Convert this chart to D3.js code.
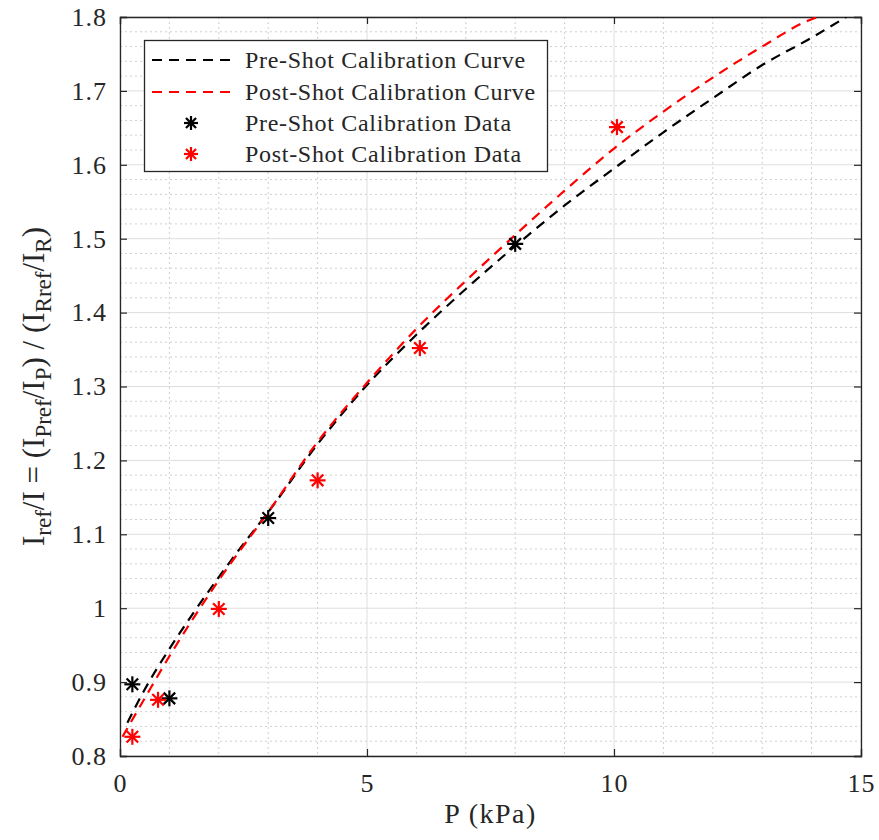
<!DOCTYPE html>
<html lang="en">
<head>
<meta charset="UTF-8">
<title>Calibration</title>
<style>
  body { margin: 0; background: #fff; }
  text { font-family: "Liberation Serif", "Times New Roman", serif; fill: #262626; }
</style>
</head>
<body>
<div id="chart"></div>
<script src="https://cdn.jsdelivr.net/npm/d3@7"></script>
<script>
// curve samples
const preCurveP = [0.15, 0.5, 1, 1.5, 2, 2.5, 3, 4, 5, 6, 7, 8, 9, 10, 11, 12, 13, 14, 14.7];
const preCurveV = [0.845, 0.89, 0.945, 0.995, 1.042, 1.087, 1.13, 1.222, 1.302, 1.37, 1.432, 1.49, 1.545, 1.595, 1.644, 1.69, 1.735, 1.772, 1.80];
const postCurveP = [0.05, 0.5, 1, 1.5, 2, 3, 4, 5, 6, 7, 8, 9, 10, 11, 12, 13, 14, 14.13];
const postCurveV = [0.826, 0.878, 0.935, 0.988, 1.038, 1.13, 1.225, 1.305, 1.378, 1.443, 1.505, 1.565, 1.622, 1.672, 1.718, 1.76, 1.797, 1.80];

// measured points
const preDataP = [0.25, 1.0, 3.0, 8.0];
const preDataV = [0.897, 0.878, 1.122, 1.493];
const postDataP = [0.25, 0.77, 2.0, 4.0, 6.07, 10.06];
const postDataV = [0.826, 0.876, 0.999, 1.173, 1.352, 1.651];

const xTicks = [0, 5, 10, 15];
const yTicks = [0.8, 0.9, 1, 1.1, 1.2, 1.3, 1.4, 1.5, 1.6, 1.7, 1.8];

const legendLabels = ["Pre-Shot Calibration Curve", "Post-Shot Calibration Curve",
                      "Pre-Shot Calibration Data", "Post-Shot Calibration Data"];

const width = 879, height = 840;
const m = {left: 120, top: 17, right: 861, bottom: 756};

const svg = d3.select("#chart").append("svg")
    .attr("width", width)
    .attr("height", height);

const x = d3.scaleLinear().domain([0, 15]).range([m.left, m.right]);
const y = d3.scaleLinear().domain([0.8, 1.8]).range([m.bottom, m.top]);

svg.append("defs").append("clipPath").attr("id", "clip")
    .append("rect")
    .attr("x", m.left).attr("y", m.top)
    .attr("width", m.right - m.left).attr("height", m.bottom - m.top);

// minor grid
const grid = svg.append("g");
grid.selectAll(".mx")
    .data(d3.range(0, 16).filter(d => d % 5 !== 0))
    .join("line")
    .attr("x1", d => x(d)).attr("x2", d => x(d))
    .attr("y1", m.top).attr("y2", m.bottom)
    .attr("stroke", "#cfcfcf").attr("stroke-width", 1).attr("stroke-dasharray", "2,3");
grid.selectAll(".my")
    .data(d3.range(0, 51).map(i => 0.8 + i * 0.02).filter((d, i) => i % 5 !== 0))
    .join("line")
    .attr("y1", d => y(d)).attr("y2", d => y(d))
    .attr("x1", m.left).attr("x2", m.right)
    .attr("stroke", "#cfcfcf").attr("stroke-width", 1).attr("stroke-dasharray", "2,3");

// major grid
grid.selectAll(".gx")
    .data(xTicks)
    .join("line")
    .attr("x1", d => x(d)).attr("x2", d => x(d))
    .attr("y1", m.top).attr("y2", m.bottom)
    .attr("stroke", "#dedede").attr("stroke-width", 1);
grid.selectAll(".gy")
    .data(yTicks)
    .join("line")
    .attr("y1", d => y(d)).attr("y2", d => y(d))
    .attr("x1", m.left).attr("x2", m.right)
    .attr("stroke", "#dedede").attr("stroke-width", 1);

// axes (ticks pointing inward, MATLAB box)
const tickLen = 7;
const axBottom = svg.append("g").attr("transform", `translate(0,${m.bottom})`)
    .call(d3.axisBottom(x).tickValues(xTicks).tickSize(-tickLen).tickPadding(18).tickFormat(d3.format("d")));
const axTop = svg.append("g").attr("transform", `translate(0,${m.top})`)
    .call(d3.axisTop(x).tickValues(xTicks).tickSize(-tickLen).tickFormat(""));
const axLeft = svg.append("g").attr("transform", `translate(${m.left},0)`)
    .call(d3.axisLeft(y).tickValues(yTicks).tickSize(-tickLen).tickPadding(13).tickFormat(d => d3.format("")(+d.toFixed(1))));
const axRight = svg.append("g").attr("transform", `translate(${m.right},0)`)
    .call(d3.axisRight(y).tickValues(yTicks).tickSize(-tickLen).tickFormat(""));
[axBottom, axTop, axLeft, axRight].forEach(a => {
    a.select(".domain").attr("stroke", "#262626").attr("stroke-width", 1.3);
    a.selectAll(".tick line").attr("stroke", "#262626").attr("stroke-width", 1.2);
    a.selectAll(".tick text").attr("font-size", 26).attr("fill", "#262626")
        .attr("letter-spacing", 1)
        .style("font-family", "'Liberation Serif', serif");
});
axBottom.selectAll(".tick text").attr("dy", "0.71em");

// curves
const line = d3.line().x(d => x(d[0])).y(d => y(d[1])).curve(d3.curveMonotoneX);
const plot = svg.append("g").attr("clip-path", "url(#clip)");
plot.append("path")
    .datum(d3.zip(preCurveP, preCurveV))
    .attr("d", line)
    .attr("fill", "none").attr("stroke", "#000").attr("stroke-width", 2.2)
    .attr("stroke-dasharray", "10,7");
plot.append("path")
    .datum(d3.zip(postCurveP, postCurveV))
    .attr("d", line)
    .attr("fill", "none").attr("stroke", "#ff0000").attr("stroke-width", 2.2)
    .attr("stroke-dasharray", "10,7");

// asterisk marker
function asterisk(sel, color, r) {
    const arms = [[-r, 0, r, 0], [0, -r, 0, r],
                  [-r * 0.72, -r * 0.72, r * 0.72, r * 0.72], [-r * 0.72, r * 0.72, r * 0.72, -r * 0.72]];
    arms.forEach(a => {
        sel.append("line")
            .attr("x1", a[0]).attr("y1", a[1]).attr("x2", a[2]).attr("y2", a[3])
            .attr("stroke", color).attr("stroke-width", 2.2);
    });
}

svg.append("g").selectAll("g")
    .data(d3.zip(preDataP, preDataV))
    .join("g")
    .attr("transform", d => `translate(${x(d[0])},${y(d[1])})`)
    .each(function () { asterisk(d3.select(this), "#000", 8); });

svg.append("g").selectAll("g")
    .data(d3.zip(postDataP, postDataV))
    .join("g")
    .attr("transform", d => `translate(${x(d[0])},${y(d[1])})`)
    .each(function () { asterisk(d3.select(this), "#ff0000", 8); });

// legend
const lg = svg.append("g");
lg.append("rect")
    .attr("x", 144.5).attr("y", 40.5).attr("width", 403).attr("height", 131)
    .attr("fill", "#fff").attr("stroke", "#262626").attr("stroke-width", 1.3);
const rowY = [60, 92, 123, 154];
const legendColors = ["#000", "#ff0000", "#000", "#ff0000"];
legendLabels.forEach((lab, i) => {
    if (i < 2) {
        lg.append("line")
            .attr("x1", 152).attr("x2", 230).attr("y1", rowY[i]).attr("y2", rowY[i])
            .attr("stroke", legendColors[i]).attr("stroke-width", 2.2)
            .attr("stroke-dasharray", "10,7");
    } else {
        asterisk(lg.append("g").attr("transform", `translate(191,${rowY[i]})`), legendColors[i], 7);
    }
    lg.append("text")
        .attr("x", 245).attr("y", rowY[i]).attr("dy", "0.35em")
        .attr("font-size", 24)
        .attr("letter-spacing", 0.7)
        .attr("fill", "#111")
        .text(lab);
});

// axis titles
svg.append("text")
    .attr("x", (m.left + m.right) / 2).attr("y", 823)
    .attr("text-anchor", "middle").attr("font-size", 28)
    .attr("letter-spacing", 1.5)
    .text("P (kPa)");

const yl = svg.append("text")
    .attr("transform", `translate(44,${(m.top + m.bottom) / 2}) rotate(-90)`)
    .attr("text-anchor", "middle").attr("font-size", 31);
const parts = [["I", 0], ["ref", 1], ["/I = (I", 0], ["Pref", 1], ["/I", 0], ["P", 1],
               [") / (I", 0], ["Rref", 1], ["/I", 0], ["R", 1], [")", 0]];
parts.forEach(p => {
    yl.append("tspan")
        .attr("font-size", p[1] ? 23 : 31)
        .attr("baseline-shift", p[1] ? "-30%" : null)
        .text(p[0]);
});
</script>
</body>
</html>
